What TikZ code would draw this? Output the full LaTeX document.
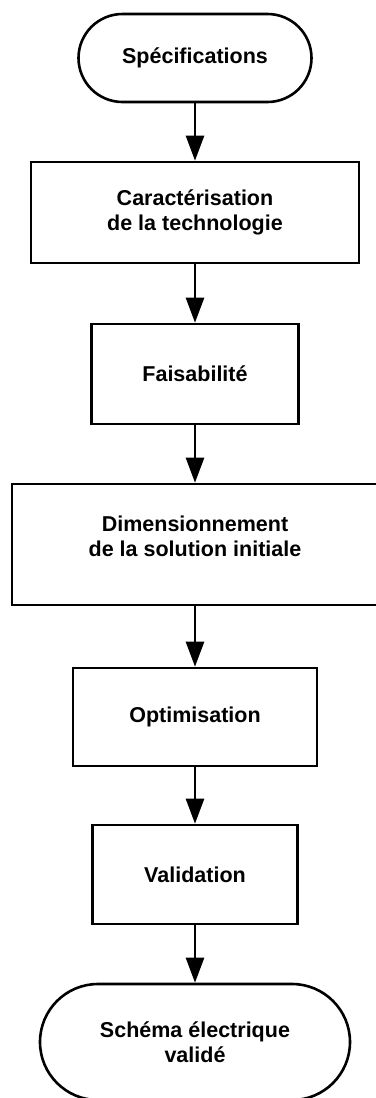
\documentclass[tikz,border=0pt]{standalone}
\usepackage{fontspec}
\setsansfont{Liberation Sans}
\usetikzlibrary{arrows.meta}
\newcommand{\etiq}{\sffamily\bfseries\fontsize{21.5}{25}\selectfont}

\begin{document}
\begin{tikzpicture}[x=1pt,y=-1pt,line width=2.6pt,
  term/.style={draw,rounded corners=#1,inner sep=0pt,align=center,font=\etiq},
  bloc/.style={draw,inner sep=0pt,align=center,font=\etiq},
  fleche/.style={-{Triangle[length=25pt,width=18pt]}}]
\useasboundingbox(0,0)rectangle(375,1098);
\node[term=44pt,minimum width=233pt,minimum height=88pt](spec)at(195,58){Spécifications};
\node[bloc,minimum width=328pt,minimum height=101pt](carac)at(195,212.5){Caractérisation\\de la technologie};
\node[bloc,minimum width=207pt,minimum height=100pt](faisa)at(195,374){Faisabilité};
\node[bloc,minimum width=366pt,minimum height=121pt,text height=41pt,text depth=18pt](dimen)at(195,544.5){Dimensionnement\\de la solution initiale};
\node[bloc,minimum width=244pt,minimum height=98pt](optim)at(195,717){Optimisation};
\node[bloc,minimum width=205pt,minimum height=99pt](valid)at(195,874.5){Validation};
\node[term=58pt,minimum width=310pt,minimum height=116pt](schema)at(195,1042){Schéma électrique\\validé};
\foreach \a/\b in {spec/carac,carac/faisa,faisa/dimen,dimen/optim,optim/valid,valid/schema}
  \draw[fleche](\a)--(\b);
\end{tikzpicture}
\end{document}
